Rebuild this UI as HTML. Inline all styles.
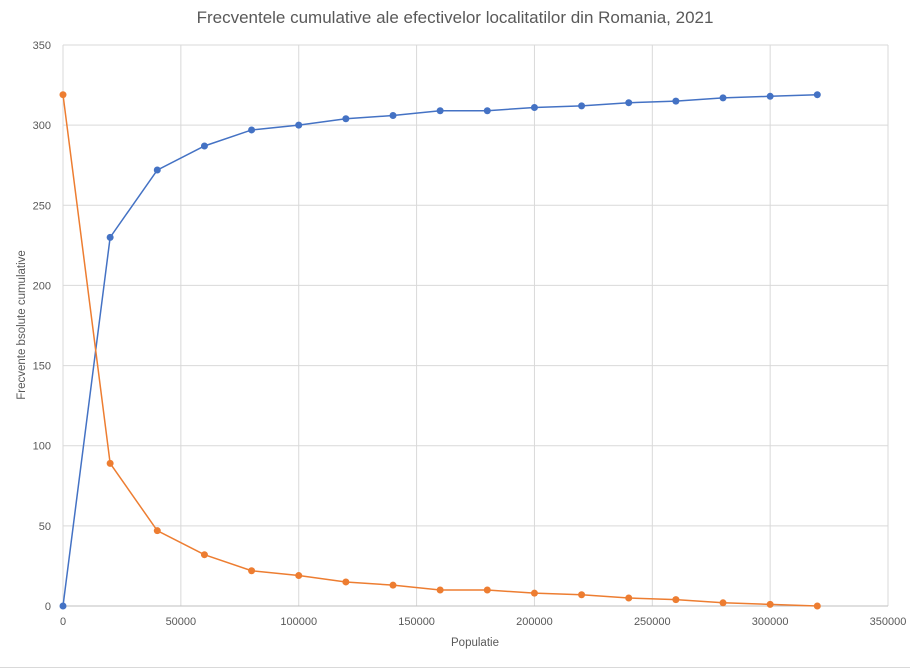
<!DOCTYPE html>
<html><head><meta charset="utf-8"><style>
html,body{margin:0;padding:0;background:#fff;}
svg{display:block;font-family:"Liberation Sans",sans-serif;}
</style></head><body>
<svg id="c" width="910" height="670" xmlns="http://www.w3.org/2000/svg">
<rect width="910" height="670" fill="#fff"/>
<text x="455" y="23" text-anchor="middle" font-size="17" fill="#595959">Frecventele cumulative ale efectivelor localitatilor din Romania, 2021</text>
<g id="grid"></g>
<text x="475" y="646" text-anchor="middle" font-size="11.5" fill="#595959">Populatie</text>
<text transform="translate(25,325) rotate(-90)" text-anchor="middle" font-size="11.5" fill="#595959">Frecvente bsolute cumulative</text>
<g id="series"></g>
<line x1="0" y1="667.5" x2="910" y2="667.5" stroke="#d9d9d9"/>
</svg>
<script>
var ns="http://www.w3.org/2000/svg";
function X(v){return 63+v/50000*117.86;}
function Y(v){return 606-v*(561/350);}
var g=document.getElementById('grid'),h='';
for(var i=0;i<=7;i++){var y=Y(i*50),x=X(i*50000);
h+='<line x1="63" x2="888" y1="'+y+'" y2="'+y+'" stroke="#d9d9d9" stroke-width="1"/>';
h+='<line y1="45" y2="606" x1="'+x+'" x2="'+x+'" stroke="#d9d9d9" stroke-width="1"/>';
h+='<text x="51" y="'+(y+4)+'" text-anchor="end" font-size="11" fill="#595959">'+(i*50)+'</text>';
h+='<text x="'+x+'" y="625" text-anchor="middle" font-size="11" fill="#595959">'+(i*50000)+'</text>';}
h+='<line x1="63" x2="888" y1="606" y2="606" stroke="#bfbfbf"/>';
g.innerHTML=h;
var b=[0,230,272,287,297,300,304,306,309,309,311,312,314,315,317,318,319];
var o=[319,89,47,32,22,19,15,13,10,10,8,7,5,4,2,1,0];
function ser(d,c){var p='',s='';d.forEach(function(v,i){var x=X(i*20000),y=Y(v);p+=x+','+y+' ';s+='<circle cx="'+x+'" cy="'+y+'" r="3.5" fill="'+c+'"/>';});
return '<polyline points="'+p+'" fill="none" stroke="'+c+'" stroke-width="1.5"/>'+s;}
document.getElementById('series').innerHTML=ser(b,'#4472c4')+ser(o,'#ed7d31');
</script>
</body></html>
